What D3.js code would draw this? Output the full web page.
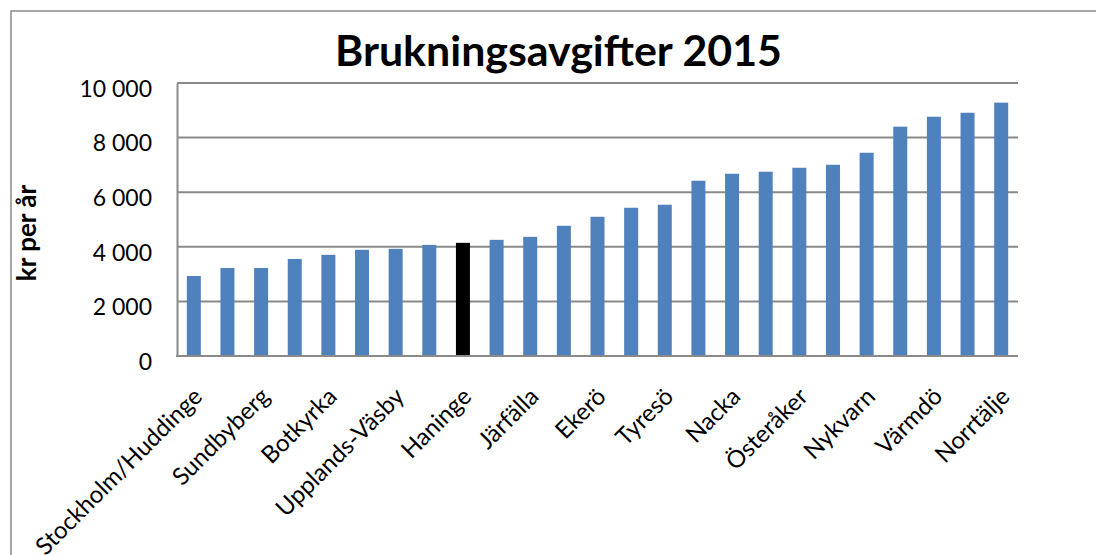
<!DOCTYPE html>
<html>
<head>
<meta charset="utf-8">
<script src="https://cdn.jsdelivr.net/npm/d3@7"></script>
<style>
  html, body { margin: 0; padding: 0; background: #fff; }
  svg { display: block; }
  text { font-family: Lato, "Open Sans", sans-serif; fill: #000; }
</style>
</head>
<body>
<svg id="chart" width="1096" height="555"></svg>
<script>
// ---- data ----
const title = "Brukningsavgifter 2015";
const yAxisTitle = "kr per år";
// 25 municipalities; only every other name is printed on the axis in the original
const categories = [
  "Stockholm/Huddinge", "", "Sundbyberg", "", "Botkyrka", "", "Upplands-Väsby", "",
  "Haninge", "", "Järfälla", "", "Ekerö", "", "Tyresö", "", "Nacka", "",
  "Österåker", "", "Nykvarn", "", "Värmdö", "", "Norrtälje"
];
const values = [
  2930, 3225, 3225, 3555, 3705, 3890, 3925, 4070, 4145, 4255, 4365, 4770, 5100,
  5430, 5540, 6420, 6675, 6750, 6895, 7005, 7445, 8400, 8765, 8910, 9280
];
const highlighted = "Haninge";
const yTicks = [0, 2000, 4000, 6000, 8000, 10000];

// ---- layout ----
const svg = d3.select("#chart");
const plot = { left: 177, right: 1018, top: 83, bottom: 356 };
const gridColor = "#8a8a8a";

// outer chart border (extends beyond the visible window on right/bottom)
svg.append("rect")
  .attr("x", 11).attr("y", 11)
  .attr("width", 1200).attr("height", 700)
  .attr("fill", "none").attr("stroke", gridColor).attr("stroke-width", 1.5);

const x = d3.scaleBand()
  .domain(d3.range(categories.length))
  .range([plot.left, plot.right])
  .paddingInner(0.584)
  .paddingOuter(0.292);

const y = d3.scaleLinear().domain([0, 10000]).range([plot.bottom, plot.top]);

const fmt = d3.formatLocale({ decimal: ",", thousands: " ", grouping: [3], currency: ["", " kr"] }).format(",d");

// gridlines
svg.append("g")
  .selectAll("line")
  .data(yTicks)
  .join("line")
  .attr("x1", plot.left).attr("x2", plot.right)
  .attr("y1", d => y(d)).attr("y2", d => y(d))
  .attr("stroke", gridColor).attr("stroke-width", 2);

// y axis
const yAxis = svg.append("g")
  .attr("transform", `translate(${plot.left},0)`)
  .call(d3.axisLeft(y).tickValues(yTicks).tickFormat(fmt).tickSize(0).tickPadding(25));
yAxis.select(".domain").attr("stroke", gridColor).attr("stroke-width", 2);
yAxis.selectAll("text")
  .attr("font-size", 23)
  .attr("font-family", "Lato, sans-serif")
  .attr("fill", "#000")
  .attr("dy", "0.32em")
  .attr("y", 6);

// bars
svg.append("g")
  .selectAll("rect")
  .data(values)
  .join("rect")
  .attr("x", (d, i) => x(i))
  .attr("width", x.bandwidth())
  .attr("y", d => y(d))
  .attr("height", d => y(0) - y(d))
  .attr("fill", (d, i) => categories[i] === highlighted ? "#000000" : "#4F81BD");

// x axis line
svg.append("line")
  .attr("x1", plot.left - 1).attr("x2", plot.right)
  .attr("y1", plot.bottom).attr("y2", plot.bottom)
  .attr("stroke", gridColor).attr("stroke-width", 2);

// x labels (rotated)
svg.append("g")
  .selectAll("text")
  .data(categories.map((c, i) => ({ c, i })).filter(d => d.c !== ""))
  .join("text")
  .attr("text-anchor", "end")
  .attr("font-size", 24)
  .attr("transform", d => `translate(${x(d.i) + x.bandwidth() / 2 + 10},${plot.bottom + 42}) rotate(-45)`)
  .text(d => d.c);

// title
const t = svg.append("text")
  .attr("x", 558.5).attr("y", 66)
  .attr("text-anchor", "middle")
  .attr("font-weight", "bold")
  .attr("font-size", 42)
  .text(title);
const w = t.node().getComputedTextLength();
if (w > 0) t.attr("font-size", 42 * 447 / w);

// y axis title
svg.append("text")
  .attr("transform", "translate(36,233) rotate(-90)")
  .attr("text-anchor", "middle")
  .attr("font-weight", "bold")
  .attr("font-size", 26)
  .text(yAxisTitle);
</script>
</body>
</html>
